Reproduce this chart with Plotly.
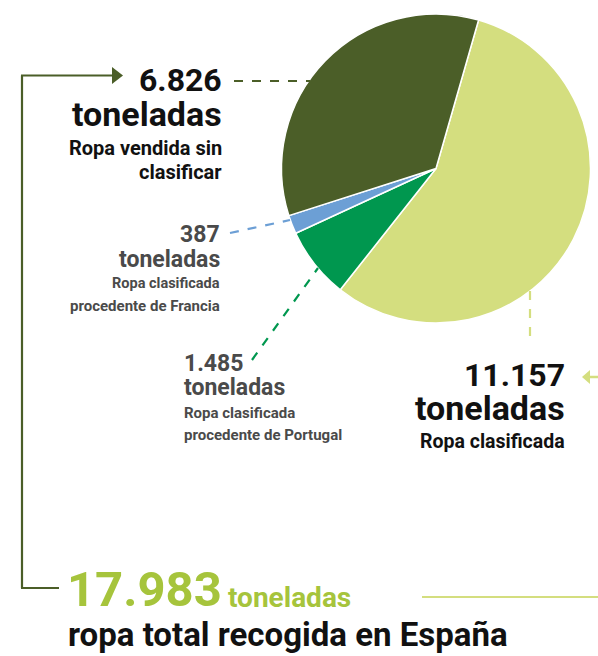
import plotly.graph_objects as go

W, H = 598, 656

categories = ["Ropa clasificada", "Ropa clasificada procedente de Portugal",
              "Ropa clasificada procedente de Francia", "Ropa vendida sin clasificar"]
values = [11157, 1485, 387, 6826]
value_labels = ["11.157", "1.485", "387", "6.826"]
total_label = "17.983"
colors = ["#d4de7f", "#00974f", "#6c9fd5", "#4b5e28"]

FONT = "Roboto, sans-serif"
BLACK = "#111111"
GRAY = "#4a4a4a"
TOTAL_GREEN = "#a6c43c"


def px(x):
    return x / W


def py(y):
    return 1 - y / H


cx, cy, r = 436, 168.5, 154.5

fig = go.Figure(go.Pie(
    labels=categories, values=values, sort=False, direction="clockwise",
    rotation=16, marker=dict(colors=colors, line=dict(color="white", width=1.5)),
    textinfo="none", hoverinfo="label+value", showlegend=False,
    domain=dict(x=[px(cx - r), px(cx + r)], y=[py(cy + r), py(cy - r)]),
))

shapes = []


def line(x0, y0, x1, y1, color, width=2, dash="solid"):
    shapes.append(dict(type="line", xref="paper", yref="paper",
                       x0=px(x0), y0=py(y0), x1=px(x1), y1=py(y1),
                       line=dict(color=color, width=width, dash=dash)))


def tri(points, color):
    path = "M " + " L ".join(f"{px(x)},{py(y)}" for x, y in points) + " Z"
    shapes.append(dict(type="path", xref="paper", yref="paper", path=path,
                       fillcolor=color, line=dict(width=0)))


# bracket
line(22, 75.5, 22, 588, colors[3], 2.2)
line(21, 75.5, 113, 75.5, colors[3], 2.2)
line(21, 588, 59, 588, colors[3], 2.2)
tri([(112, 67), (123, 75.5), (112, 84)], colors[3])

# leader lines
line(234, 81, 310, 81, colors[3], 2, "dash")
line(230, 233, 290, 220, colors[2], 2.2, "dash")
line(252, 360, 318, 268, colors[1], 2.2, "dash")
line(530, 291, 530, 345, colors[0], 2.2, "dash")

# right arrow
tri([(582, 377), (590, 370), (590, 384)], colors[0])
line(589, 377, 598, 377, colors[0], 2.5)

# bottom line
line(422, 597, 598, 597, colors[0], 2)

ann = []


def text(x, y, s, size, color, anchor="right"):
    ann.append(dict(x=px(x), y=py(y), xref="paper", yref="paper", text=s,
                    showarrow=False, xanchor=anchor, yanchor="middle",
                    font=dict(family=FONT, size=size, color=color)))


# 6.826
text(224, 80, "<b>" + value_labels[3] + "</b>", 32, BLACK)
text(224, 114, "<b>toneladas</b>", 34, BLACK)
text(224, 148, "<b>Ropa vendida sin</b>", 20, BLACK)
text(224, 172, "<b>clasificar</b>", 20, BLACK)

# 387
text(222, 235, "<b>" + value_labels[2] + "</b>", 23, GRAY)
text(222, 259, "<b>toneladas</b>", 23, GRAY)
text(222, 284, "<b>Ropa clasificada</b>", 14.5, GRAY)
text(222, 306, "<b>procedente de Francia</b>", 15, GRAY)

# 1.485
text(182, 363, "<b>" + value_labels[1] + "</b>", 23, GRAY, "left")
text(182, 387, "<b>toneladas</b>", 23, GRAY, "left")
text(182, 413, "<b>Ropa clasificada</b>", 15, GRAY, "left")
text(182, 435, "<b>procedente de Portugal</b>", 15, GRAY, "left")

# 11.157
text(567, 375, "<b>" + value_labels[0] + "</b>", 32, BLACK)
text(567, 408, "<b>toneladas</b>", 34, BLACK)
text(567, 441, "<b>" + categories[0] + "</b>", 19.5, BLACK)

# total
text(65, 589, "<b>" + total_label + "</b>", 49, TOTAL_GREEN, "left")
text(226, 597, "<b>toneladas</b>", 28, TOTAL_GREEN, "left")
text(66, 634, "<b>ropa total recogida en España</b>", 33, BLACK, "left")

fig.update_layout(width=W, height=H, margin=dict(l=0, r=0, t=0, b=0),
                  paper_bgcolor="white", plot_bgcolor="white",
                  shapes=shapes, annotations=ann)

fig.write_html("out.html", config={"displayModeBar": False},
               post_script="document.body.style.margin='0';document.body.style.overflow='hidden';")
